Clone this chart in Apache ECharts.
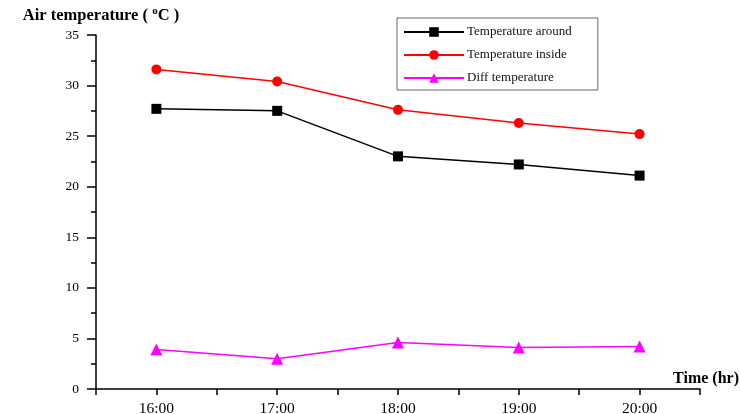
<!DOCTYPE html>
<html>
<head>
<meta charset="utf-8">
<script src="https://cdn.jsdelivr.net/npm/echarts@6/dist/echarts.min.js"></script>
<style>
  html, body { margin: 0; padding: 0; background: #fff; }
  #main { width: 740px; height: 414px; }
</style>
</head>
<body>
<div id="main"></div>
<script>
var hours = [16, 17, 18, 19, 20];
var tempAround = [27.7, 27.5, 23.0, 22.2, 21.1];
var tempInside = [31.6, 30.4, 27.6, 26.3, 25.2];
var tempDiff = [3.9, 3.0, 4.6, 4.1, 4.2];
var yTicks = [0, 5, 10, 15, 20, 25, 30, 35];

function pairs(vals) {
  return hours.map(function (h, i) { return [h, vals[i]]; });
}

var serif = 'Liberation Serif';
var chart = echarts.init(document.getElementById('main'));

var option = {
  animation: false,
  backgroundColor: '#fff',
  grid: { left: 96, right: 40, top: 35, bottom: 25, containLabel: false, outerBoundsMode: 'none' },
  legend: {
    orient: 'vertical',
    left: 397,
    top: 18,
    padding: [7, 26, 5, 6],
    itemGap: 9,
    itemWidth: 60,
    itemHeight: 12,
    itemStyle: { borderWidth: 0 },
    borderColor: '#666',
    borderWidth: 1,
    textStyle: { fontFamily: serif, fontSize: 13, color: '#111', lineHeight: 14, padding: [0, 0, 0, -2] },
    data: ['Temperature around', 'Temperature inside', 'Diff temperature']
  },
  xAxis: {
    type: 'value',
    min: 15.5,
    max: 20.5,
    interval: 0.5,
    name: 'Time (hr)',
    nameLocation: 'end',
    nameGap: 39,
    nameTextStyle: { fontFamily: serif, fontSize: 16, fontWeight: 'bold', color: '#000', align: 'right', verticalAlign: 'bottom', padding: [0, 0, 2, 0] },
    splitLine: { show: false },
    axisLine: { lineStyle: { color: '#000', width: 1.5 } },
    axisTick: { length: 6, lineStyle: { color: '#000', width: 1.5 } },
    axisLabel: {
      fontFamily: serif, fontSize: 15.5, color: '#000', margin: 12,
      formatter: function (v) { return v % 1 === 0 ? v + ':00' : ''; }
    }
  },
  yAxis: {
    type: 'value',
    min: yTicks[0],
    max: yTicks[yTicks.length - 1],
    interval: 5,
    name: 'Air temperature ( {sup|o}C )',
    nameLocation: 'end',
    nameGap: 9,
    nameTextStyle: {
      fontFamily: serif, fontSize: 16.5, fontWeight: 'bold', color: '#000', align: 'center', padding: [0, 0, 0, 10],
      rich: { sup: { fontFamily: serif, fontSize: 11, fontWeight: 'bold', color: '#000', padding: [0, 0, 9, 0] } }
    },
    splitLine: { show: false },
    axisLine: { show: true, lineStyle: { color: '#000', width: 1.5 } },
    axisTick: { show: true, length: 9, lineStyle: { color: '#000', width: 1.5 } },
    minorTick: { show: true, splitNumber: 2, length: 5, lineStyle: { color: '#000', width: 1.5 } },
    axisLabel: { fontFamily: serif, fontSize: 13.5, color: '#000', margin: 17 }
  },
  series: [
    {
      name: 'Temperature around',
      type: 'line',
      data: pairs(tempAround),
      symbol: 'rect',
      symbolSize: 10,
      color: '#000',
      lineStyle: { color: '#000', width: 1.5 },
      itemStyle: { color: '#000' }
    },
    {
      name: 'Temperature inside',
      type: 'line',
      data: pairs(tempInside),
      symbol: 'circle',
      symbolSize: 10,
      color: '#ff0000',
      lineStyle: { color: '#ff0000', width: 1.5 },
      itemStyle: { color: '#ff0000' }
    },
    {
      name: 'Diff temperature',
      type: 'line',
      data: pairs(tempDiff),
      symbol: 'triangle',
      symbolSize: 12,
      color: '#ff00ff',
      lineStyle: { color: '#ff00ff', width: 1.5 },
      itemStyle: { color: '#ff00ff' }
    }
  ]
};

chart.setOption(option);
</script>
</body>
</html>
